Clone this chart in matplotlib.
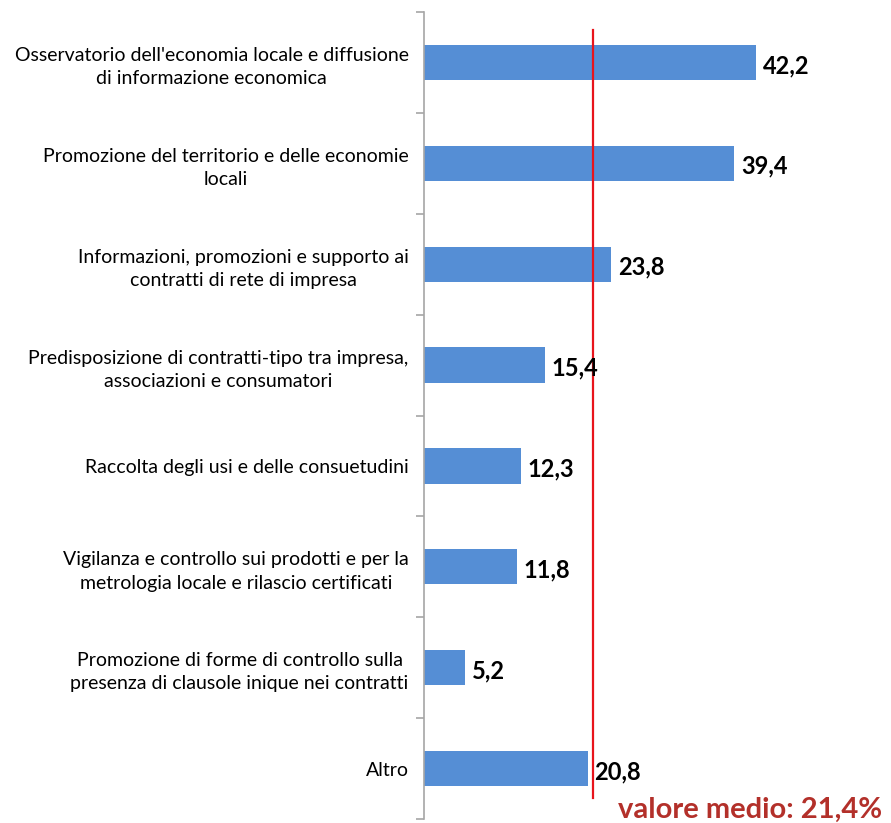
import numpy as np
import matplotlib
matplotlib.use("Agg")
import matplotlib.pyplot as plt

categories = [
    "Osservatorio dell'economia locale e diffusione\ndi informazione economica",
    "Promozione del territorio e delle economie\nlocali",
    "Informazioni, promozioni e supporto ai\ncontratti di rete di impresa",
    "Predisposizione di contratti-tipo tra impresa,\nassociazioni e consumatori",
    "Raccolta degli usi e delle consuetudini",
    "Vigilanza e controllo sui prodotti e per la\nmetrologia locale e rilascio certificati",
    "Promozione di forme di controllo sulla\npresenza di clausole inique nei contratti",
    "Altro",
]
values = [42.2, 39.4, 23.8, 15.4, 12.3, 11.8, 5.2, 20.8]
mean_value = 21.4
mean_label = "valore medio: 21,4%"

plt.rcParams['font.family'] = ['Lato', 'DejaVu Sans']

fig = plt.figure(figsize=(8.91, 8.23), dpi=100)
ax = fig.add_axes([424 / 891, 4 / 823, 456 / 891, 807 / 823])

y = np.arange(len(categories))
ax.barh(y, values, height=0.35, color="#558ED5")
ax.set_ylim(len(categories) - 0.5, -0.5)
ax.set_xlim(0, 57.9)

for yi, v in zip(y, values):
    ax.text(v + 0.85, yi + 0.03, f"{v:.1f}".replace(".", ","), va="center", ha="left",
            fontsize=17, fontweight="bold", color="black")

ax.axvline(mean_value, ymin=0.026, ymax=0.978, color="#E8141C", lw=1.6)
fig.text(882 / 891, 1 - 810 / 823, mean_label, ha="right", va="center",
         fontsize=21, fontweight="bold", color="#B3302A")

for s in ["top", "right", "bottom"]:
    ax.spines[s].set_visible(False)
ax.spines["left"].set_color("#A6A6A6")
ax.spines["left"].set_linewidth(1.2)
ax.set_xticks([])
ax.set_yticks(y)
ax.set_yticklabels(categories, fontsize=14)
for lbl in ax.get_yticklabels():
    lbl.set_multialignment("center")
    lbl.set_linespacing(1.45)
ax.tick_params(axis="y", which="major", length=0, pad=11)
ax.set_yticks(np.arange(len(categories) + 1) - 0.5, minor=True)
ax.tick_params(axis="y", which="minor", length=6, color="#A6A6A6", width=1.2)

fig.savefig("out.png", dpi=100)
